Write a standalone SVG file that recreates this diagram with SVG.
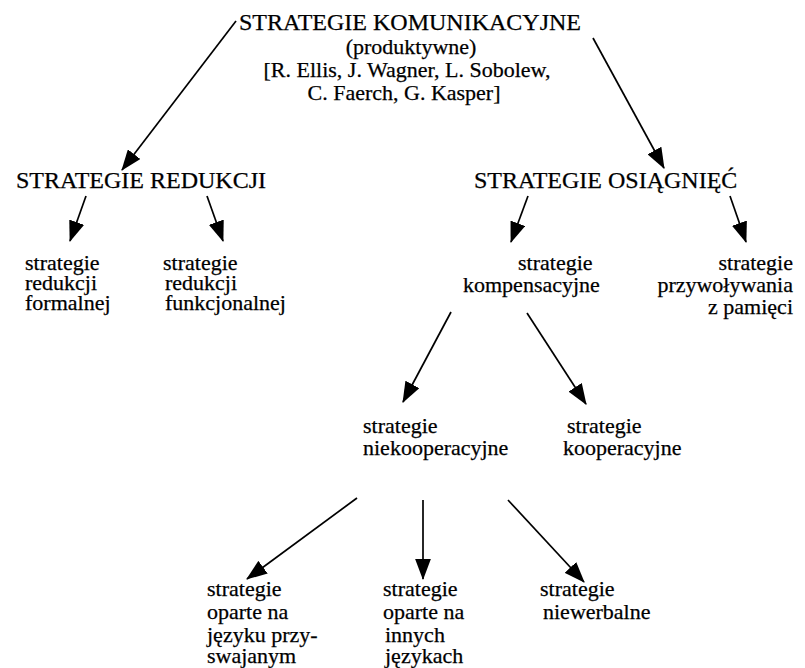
<svg xmlns="http://www.w3.org/2000/svg" width="805" height="668" viewBox="0 0 805 668">
<style>
text{font-family:"Liberation Serif","Times New Roman",serif;fill:#000;stroke:#000;stroke-width:0.25}
.cap{font-size:24px}
.lbl{font-size:22px}
.c{text-anchor:middle}
.r{text-anchor:end}
.conn line{stroke:#000;stroke-width:1.7;marker-end:url(#ah)}
</style>
<defs>
<marker id="ah" viewBox="0 0 20 15" markerWidth="21" markerHeight="16" refX="19" refY="7.5" orient="auto" markerUnits="userSpaceOnUse">
<path d="M0,0 L20,7.5 L0,15 z" fill="#000"/>
</marker>
</defs>
<rect width="805" height="668" fill="#fff"/>
<g id="connectors" class="conn">
<line x1="236" y1="21" x2="122" y2="170"/>
<line x1="593" y1="38" x2="664" y2="168"/>
<line x1="86" y1="196" x2="70" y2="241"/>
<line x1="207" y1="196" x2="223" y2="241"/>
<line x1="528" y1="196" x2="511" y2="242"/>
<line x1="730" y1="196" x2="746" y2="242"/>
<line x1="451" y1="312" x2="403" y2="402"/>
<line x1="527" y1="313" x2="586" y2="404"/>
<line x1="357" y1="498" x2="247" y2="579"/>
<line x1="423" y1="500" x2="423" y2="579"/>
<line x1="508" y1="500" x2="584" y2="582"/>
</g>
<g id="n-komunikacyjne">
<text class="cap c" x="410" y="30">STRATEGIE KOMUNIKACYJNE</text>
<text class="lbl c" x="411" y="54">(produktywne)</text>
<text class="lbl c" x="407" y="77">[R. Ellis, J. Wagner, L. Sobolew,</text>
<text class="lbl c" x="404" y="100">C. Faerch, G. Kasper]</text>
</g>
<g id="n-redukcji"><text class="cap" x="16" y="188">STRATEGIE REDUKCJI</text></g>
<g id="n-osiagniec"><text class="cap" x="474" y="188">STRATEGIE OSIĄGNIĘĆ</text></g>
<g id="n-formalnej">
<text class="lbl" x="25" y="270">strategie</text>
<text class="lbl" x="25" y="290">redukcji</text>
<text class="lbl" x="25" y="310">formalnej</text>
</g>
<g id="n-funkcjonalnej">
<text class="lbl" x="163" y="270">strategie</text>
<text class="lbl" x="165" y="290">redukcji</text>
<text class="lbl" x="165" y="310">funkcjonalnej</text>
</g>
<g id="n-kompensacyjne">
<text class="lbl" x="518" y="270">strategie</text>
<text class="lbl" x="463" y="292">kompensacyjne</text>
</g>
<g id="n-przywolywania">
<text class="lbl r" x="793" y="270">strategie</text>
<text class="lbl r" x="793" y="292">przywoływania</text>
<text class="lbl r" x="793" y="314">z pamięci</text>
</g>
<g id="n-niekooperacyjne">
<text class="lbl" x="363" y="433">strategie</text>
<text class="lbl" x="363" y="455">niekooperacyjne</text>
</g>
<g id="n-kooperacyjne">
<text class="lbl" x="567" y="433">strategie</text>
<text class="lbl" x="563" y="455">kooperacyjne</text>
</g>
<g id="n-przyswajanym">
<text class="lbl" x="207" y="596">strategie</text>
<text class="lbl" x="207" y="619">oparte na</text>
<text class="lbl" x="207" y="642">języku przy-</text>
<text class="lbl" x="207" y="663">swajanym</text>
</g>
<g id="n-innych">
<text class="lbl" x="383" y="596">strategie</text>
<text class="lbl" x="383" y="619">oparte na</text>
<text class="lbl" x="385" y="642">innych</text>
<text class="lbl" x="385" y="663">językach</text>
</g>
<g id="n-niewerbalne">
<text class="lbl" x="540" y="596">strategie</text>
<text class="lbl" x="543" y="619">niewerbalne</text>
</g>
</svg>
